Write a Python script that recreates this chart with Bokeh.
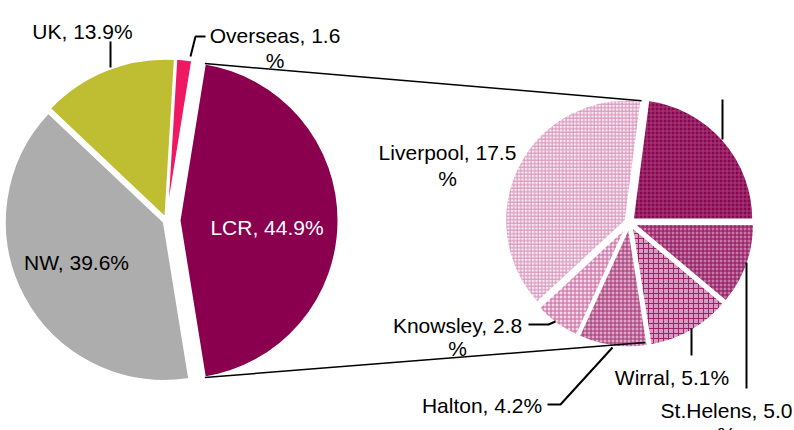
import numpy as np
from bokeh.plotting import figure
from bokeh.models import Range1d
from bokeh.embed import file_html
from bokeh.resources import INLINE
from bokeh.core.properties import value

# ---------------- data ----------------
main_labels = ["LCR", "Overseas", "UK", "NW"]
main_values = [44.9, 1.6, 13.9, 39.6]
main_colors = ["#8a004f", "#ee1863", "#bfbd31", "#adadad"]

sub_labels = ["Sefton", "St.Helens", "Wirral", "Halton", "Knowsley", "Liverpool"]
sub_values = [10.3, 5.0, 5.1, 4.2, 2.8, 17.5]
sub_fill = ["#880650", "#c47aa6", "#d49cc0", "#dcaac8", "#f2d8e7", "#f8e8f1"]
sub_hatch_color = ["#a63e7b", "#8e0c57", "#9e2269", "#a3306f", "#c8639e", "#d694bb"]
sub_hatch_scale = [4.0, 4.0, 5.0, 4.0, 4.0, 3.5]

W, H = 794, 430
FONT = value("Liberation Sans")
FS = value("21px")

def Y(py):
    return H - py

p = figure(width=W, height=H, output_backend="svg", toolbar_location=None,
           x_range=Range1d(0, W), y_range=Range1d(0, H),
           min_border=0, outline_line_color=None, background_fill_color="white")
p.axis.visible = False
p.grid.visible = False

# ---------------- main pie ----------------
mcx, mcy, mr = 166.0, Y(220), 159.0
tot = sum(main_values)
fr = np.array(main_values) / tot * 2 * np.pi
start = -fr[0] / 2
starts, ends = [], []
for f in fr:
    starts.append(start)
    ends.append(start + f)
    start += f
starts, ends = np.array(starts), np.array(ends)
mids = (starts + ends) / 2
explode = np.array([13.0, 3.0, 3.0, 3.0])
mx = mcx + explode * np.cos(mids)
my = mcy + explode * np.sin(mids)
p.wedge(x=mx, y=my, radius=mr, start_angle=starts, end_angle=ends,
        fill_color=main_colors, line_color="white", line_width=2)

# ---------------- sub pie ----------------
scx, scy, sr = 629.0, Y(222), 121.0
stot = sum(sub_values)
sfr = np.array(sub_values) / stot * 2 * np.pi
a0 = sfr[0]
his, los = [], []
cur = a0
for f in sfr:
    his.append(cur)
    los.append(cur - f)
    cur -= f
his, los = np.array(his), np.array(los)
smid = (his + los) / 2
sx = scx + 4.0 * np.cos(smid)
sy = scy + 4.0 * np.sin(smid)
for i in range(len(sub_values)):
    p.wedge(x=[sx[i]], y=[sy[i]], radius=sr, start_angle=[los[i]], end_angle=[his[i]],
            fill_color=sub_fill[i], hatch_pattern="cross", hatch_color=sub_hatch_color[i],
            hatch_scale=sub_hatch_scale[i], hatch_weight=1,
            line_color="white", line_width=2.5)

# ---------------- connectors ----------------
top_l = (mx[0] + mr * np.cos(ends[0]), my[0] + mr * np.sin(ends[0]))
bot_l = (mx[0] + mr * np.cos(starts[0]), my[0] + mr * np.sin(starts[0]))
ltop = (sx[-1] + sr * np.cos(his[0]), sy[-1] + sr * np.sin(his[0]))
lbot = (scx + sr * np.cos(-his[0]), scy + sr * np.sin(-his[0]))
p.line([top_l[0], ltop[0]], [top_l[1], ltop[1]], line_color="black", line_width=1.5)
p.line([bot_l[0], lbot[0]], [bot_l[1], lbot[1]], line_color="black", line_width=1.5)

# ---------------- leader lines ----------------
leaders = [
    [(110, 41), (110, 67)],
    [(190, 56), (195, 36), (205, 36)],
    [(722, 99), (722, 139)],
    [(746, 262), (746, 388)],
    [(691, 328), (691, 355)],
    [(547, 404), (560, 404), (612, 347)],
    [(528, 324), (548, 324), (555, 321)],
]
p.multi_line(xs=[[a for a, b in L] for L in leaders],
             ys=[[Y(b) for a, b in L] for L in leaders],
             line_color="black", line_width=2)

# ---------------- labels ----------------
def lab(name, v):
    return f"{name}, {v}%"

mv = dict(zip(main_labels, main_values))
sv = dict(zip(sub_labels, sub_values))
label_specs = []
label_specs.append(([lab("UK", mv["UK"])], 82, [31], "black"))
t = lab("Overseas", mv["Overseas"])
label_specs.append(([t[:-1], "%"], 274.5, [35, 60], "black"))
label_specs.append(([lab("LCR", mv["LCR"])], 266.5, [227], "white"))
label_specs.append(([lab("NW", mv["NW"])], 76, [262], "black"))
t = lab("Liverpool", sv["Liverpool"])
label_specs.append(([t[:-1], "%"], 447, [152, 178], "black"))
t = lab("Knowsley", sv["Knowsley"])
label_specs.append(([t[:-1], "%"], 457, [325, 348], "black"))
label_specs.append(([lab("Halton", sv["Halton"])], 481.5, [405], "black"))
label_specs.append(([lab("Wirral", sv["Wirral"])], 671.5, [377], "black"))
t = lab("St.Helens", sv["St.Helens"])
label_specs.append(([t[:-1], "%"], 726, [410, 434], "black"))

tx, ty, tt, tc = [], [], [], []
for lines, cx, bls, col in label_specs:
    for s, b in zip(lines, bls):
        tx.append(cx); ty.append(Y(b)); tt.append(s); tc.append(col)
p.text(x=tx, y=ty, text=tt, text_color=tc, text_font=FONT, text_font_size=FS,
       text_align="center", text_baseline="alphabetic")

open("out.html", "w").write(file_html(p, INLINE))
